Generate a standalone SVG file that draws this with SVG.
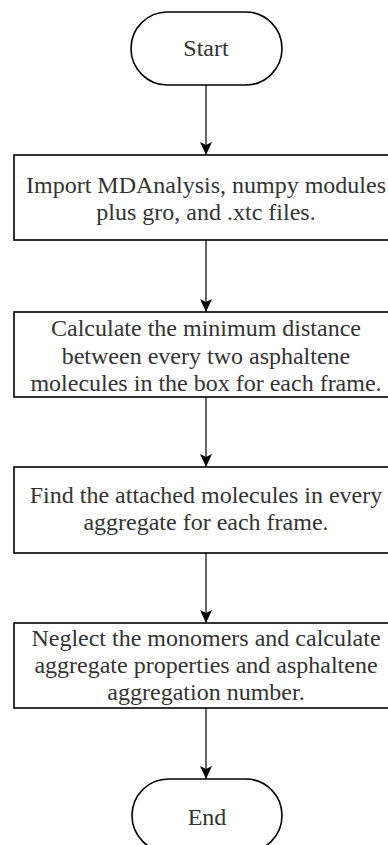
<svg xmlns="http://www.w3.org/2000/svg" width="388" height="845" viewBox="0 0 388 845">
<defs>
<style>
.shape{fill:#fff;stroke:#000;stroke-width:1.6}
.lbl{font-family:'Liberation Serif','Times New Roman',serif;font-size:24px;fill:#333;text-anchor:middle}
.edge{stroke:#000;stroke-width:1.2;fill:none}
</style>
<marker id="arr" viewBox="0 0 14 14" refX="13" refY="7" markerWidth="14" markerHeight="14" markerUnits="userSpaceOnUse" orient="auto">
<path d="M0,1 L13,7 L0,13 L3,7 Z" fill="#000"/>
</marker>
</defs>
<rect width="388" height="845" fill="#fff"/>
<g id="connectors">
<line class="edge" x1="206" y1="85" x2="206" y2="155" marker-end="url(#arr)"/>
<line class="edge" x1="206" y1="240" x2="206" y2="312" marker-end="url(#arr)"/>
<line class="edge" x1="206" y1="397" x2="206" y2="467" marker-end="url(#arr)"/>
<line class="edge" x1="206" y1="553" x2="206" y2="623" marker-end="url(#arr)"/>
<line class="edge" x1="206" y1="708" x2="206" y2="779" marker-end="url(#arr)"/>
</g>
<g id="start">
<rect class="shape" x="131" y="12" width="151" height="73" rx="36.5"/>
<text class="lbl" font-family="Liberation Serif, serif" x="206" y="56">Start</text>
</g>
<g id="import">
<rect class="shape" x="14" y="155" width="384" height="85"/>
<text class="lbl" font-family="Liberation Serif, serif" x="206" y="193">Import MDAnalysis, numpy modules</text>
<text class="lbl" font-family="Liberation Serif, serif" x="206" y="220">plus gro, and .xtc files.</text>
</g>
<g id="calculate">
<rect class="shape" x="14" y="312" width="384" height="85"/>
<text class="lbl" font-family="Liberation Serif, serif" x="206" y="336">Calculate the minimum distance</text>
<text class="lbl" font-family="Liberation Serif, serif" x="206" y="363.5">between every two asphaltene</text>
<text class="lbl" font-family="Liberation Serif, serif" x="206" y="391">molecules in the box for each frame.</text>
</g>
<g id="find">
<rect class="shape" x="14" y="467" width="384" height="86"/>
<text class="lbl" font-family="Liberation Serif, serif" x="206" y="503">Find the attached molecules in every</text>
<text class="lbl" font-family="Liberation Serif, serif" x="206" y="530">aggregate for each frame.</text>
</g>
<g id="neglect">
<rect class="shape" x="14" y="623" width="384" height="85"/>
<text class="lbl" font-family="Liberation Serif, serif" x="206" y="646">Neglect the monomers and calculate</text>
<text class="lbl" font-family="Liberation Serif, serif" x="206" y="673">aggregate properties and asphaltene</text>
<text class="lbl" font-family="Liberation Serif, serif" x="206" y="700">aggregation number.</text>
</g>
<g id="end">
<rect class="shape" x="132" y="779" width="150" height="73" rx="36.5"/>
<text class="lbl" font-family="Liberation Serif, serif" x="207" y="825">End</text>
</g>
</svg>
